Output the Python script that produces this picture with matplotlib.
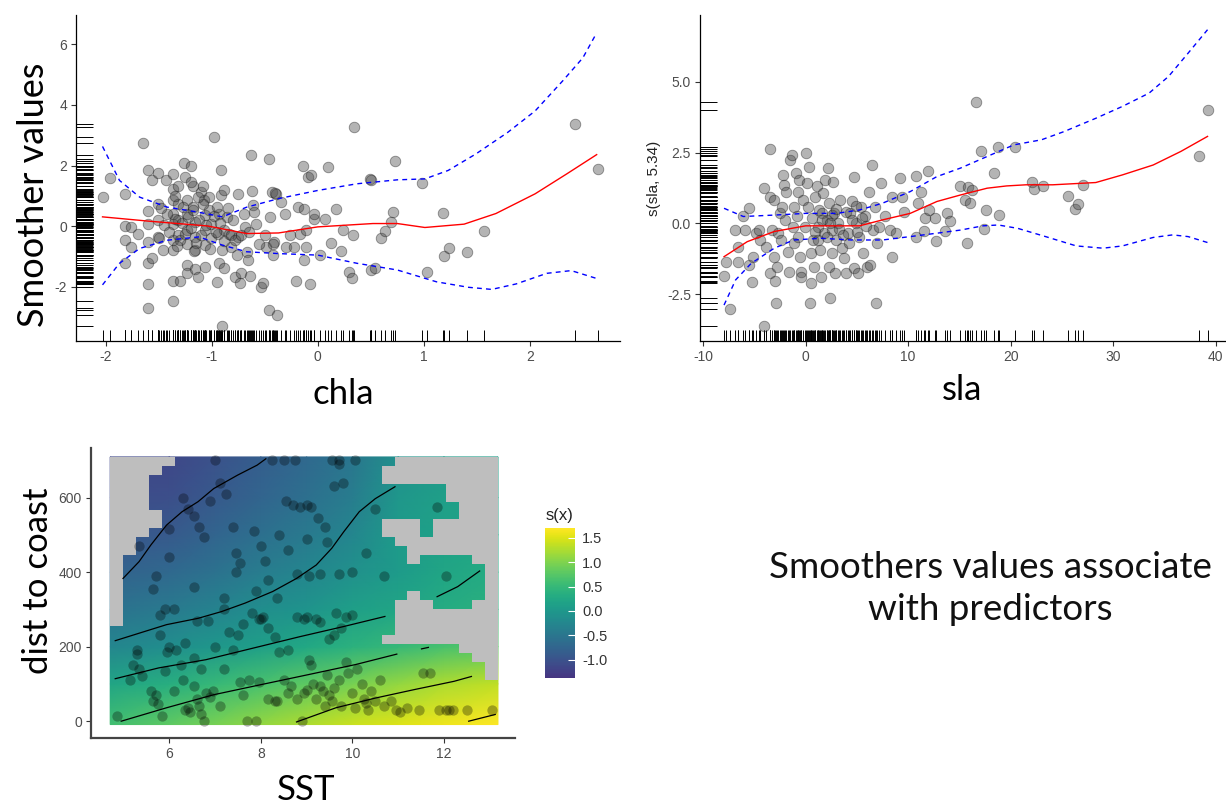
import numpy as np
import matplotlib
matplotlib.use("Agg")
import matplotlib.pyplot as plt
from matplotlib.colors import ListedColormap

plt.rcParams['axes.unicode_minus'] = False

# ---- chla smoother: partial residuals, fit and 2 SE band ----
chla_x = [-2.03, -1.96, -1.82, -1.82, -1.82, -1.82, -1.76, -1.70, -1.76, -1.65, -1.60, -1.60,
          -1.60, -1.60, -1.60, -1.60, -1.60, -1.56, -1.56, -1.51, -1.51, -1.51, -1.51, -1.46,
          -1.43, -1.37, -1.37, -1.37, -1.37, -1.37, -1.37, -1.37, -1.37, -1.37, -1.32, -1.32,
          -1.32, -1.32, -1.30, -1.26, -1.25, -1.23, -1.23, -1.23, -1.23, -1.23, -1.23, -1.20,
          -1.18, -1.18, -1.16, -1.16, -1.16, -1.16, -1.13, -1.10, -1.08, -1.07, -1.06, -1.06,
          -1.06, -1.06, -1.03, -1.03, -1.01, -1.01, -0.98, -0.95, -0.94, -0.93, -0.93, -0.91,
          -0.91, -0.90, -0.90, -0.88, -0.88, -0.88, -0.86, -0.84, -0.82, -0.78, -0.76, -0.75,
          -0.75, -0.73, -0.72, -0.69, -0.67, -0.66, -0.64, -0.63, -0.62, -0.61, -0.60, -0.58,
          -0.54, -0.52, -0.50, -0.49, -0.46, -0.46, -0.43, -0.42, -0.41, -0.39, -0.38, -0.35,
          -0.31, -0.30, -0.26, -0.22, -0.21, -0.19, -0.17, -0.14, -0.13, -0.13, -0.11, -0.11,
          -0.09, -0.07, -0.06, -0.04, -0.04, 0.02, 0.07, 0.10, 0.12, 0.17, 0.22, 0.24, 0.29,
          0.32, 0.33, 0.34, 0.49, 0.50, 0.50, 0.54, 0.60, 0.63, 0.69, 0.71, 0.73, 0.98, 1.03,
          1.18, 1.19, 1.24, 1.41, 1.57, 2.43, 2.64,
          -1.45, -1.40, -1.35, -1.30, -1.28, -1.25, -1.22, -1.20, -1.18, -1.15, -1.12, -1.10,
          -1.08, -1.05, -1.02, -0.98, -0.96, -0.92, -0.88, -0.85, -0.82, -0.80, -0.78, -0.72,
          -0.70, -0.65, -0.55, -0.45, -0.40, -0.42, -1.50, -1.42, -1.48, -1.33, -1.27, -1.17,
          -1.13, -1.35, -1.20, -0.95]
chla_y = [0.98, 1.58, 1.07, 0.00, -0.44, -1.22, -0.02, -0.24, -0.68, 2.73, 1.84, 0.49,
          0.07, -0.51, -1.22, -1.90, -2.70, 1.53, -1.06, 1.75, 0.72, 0.20, -0.35, -0.79,
          1.53, 1.73, 1.22, 0.87, 0.42, 0.07, -0.46, -0.79, -1.80, -2.46, 1.34, 0.74,
          0.20, -0.30, -1.80, 2.09, 1.62, 0.85, 0.42, -0.13, -0.57, -1.28, -1.53, 1.98,
          1.34, 0.63, 0.14, -0.35, -0.79, -1.42, -1.66, 1.13, 1.33, 0.85, 0.36, -0.13,
          -0.62, -1.33, 0.96, 0.52, 0.09, -0.40, 2.95, -1.83, -0.24, 0.42, -1.22, 1.04,
          1.84, -3.30, -0.79, 1.18, -0.13, -1.39, 0.31, -0.24, -0.68, -1.66, -0.95, 1.07,
          -0.35, -1.88, -1.55, -0.02, -0.84, -1.11, -1.64, 2.35, 1.16, 0.69, 0.47, 0.09,
          -1.99, -1.88, -0.30, -0.68, 2.22, -2.75, 1.13, -0.95, -0.51, 1.07, -2.92, 0.80,
          0.42, -0.68, -0.30, -0.68, -1.80, 0.63, -0.24, 1.97, 0.58, -1.11, -0.13, -0.68,
          1.62, -1.91, 1.70, 0.25, 0.42, -0.95, 0.25, 1.95, -0.55, 0.58, -0.82, -0.13, -1.50,
          -1.69, -0.30, 3.28, 1.56, 1.51, -1.44, -1.39, -0.40, -0.16, 0.14, 0.47, 2.16, 1.42,
          -1.52, 0.44, -0.97, -0.73, -0.84, -0.16, 3.36, 1.88,
          0.05, -0.20, 0.25, -0.45, 0.10, -0.25, 0.30, -0.05, 0.55, -0.55, 0.20, -0.30,
          0.75, 0.05, -0.75, 0.35, -0.20, 0.10, -0.50, 0.60, -0.30, 0.20, -0.45, -0.30,
          0.40, -0.20, -0.60, 0.30, 1.10, -0.60, -0.40, 0.40, 0.60, -0.65, 0.65, -0.80,
          0.95, 1.00, 1.45, 0.65]

chla_fit_x = [-2.03, -1.60, -1.04, -0.67, -0.37, 0.00, 0.52, 0.75, 1.01, 1.38, 1.68, 2.05, 2.35, 2.63]
chla_fit_y = [0.31, 0.17, 0.01, -0.24, -0.22, -0.02, 0.09, 0.09, -0.04, 0.07, 0.42, 1.07, 1.73, 2.36]
chla_up_x = [-2.03, -1.87, -1.68, -1.42, -1.12, -0.90, -0.67, -0.37, 0.00, 0.37, 0.75, 1.01,
             1.23, 1.49, 1.79, 2.05, 2.31, 2.50, 2.63]
chla_up_y = [2.63, 1.51, 0.96, 0.63, 0.46, 0.31, 0.63, 0.91, 1.18, 1.40, 1.53, 1.56,
             1.84, 2.38, 3.09, 3.80, 4.79, 5.55, 6.37]
chla_lo_x = [-2.03, -1.87, -1.68, -1.42, -1.12, -0.90, -0.67, -0.37, 0.00, 0.37, 0.75, 1.12,
             1.42, 1.64, 1.87, 2.16, 2.39, 2.63]
chla_lo_y = [-1.93, -1.22, -0.73, -0.46, -0.35, -0.62, -0.84, -0.90, -0.95, -1.22, -1.44, -1.83,
             -2.01, -2.08, -1.90, -1.55, -1.46, -1.72]

# ---- sla smoother ----
sla_x = [-7.96, -7.77, -7.40, -6.90, -6.64, -6.64, -6.15, -5.89, -5.51, -5.51, -5.25, -5.13,
         -4.87, -4.57, -4.49, -4.11, -4.11, -3.89, -3.51, -3.51, -3.43, -3.25, -3.13, -3.06,
         -2.98, -2.87, -2.75, -2.68, -2.49, -2.38, -2.30, -2.23, -2.11, -2.00, -1.92, -1.74,
         -1.62, -1.55, -1.36, -1.25, -1.17, -1.09, -0.98, -0.87, -0.79, -0.72, -0.60, -0.57,
         -0.49, -0.42, -0.23, -0.11, 0.04, 0.15, 0.26, 0.34, 0.42, 0.53, 0.53, 0.64, 0.72,
         0.79, 0.91, 1.09, 1.17, 1.28, 1.40, 1.47, 1.55, 1.66, 1.77, 1.85, 2.04, 2.15, 2.23,
         2.30, 2.42, 2.53, 2.60, 2.68, 2.79, 2.91, 2.98, 3.17, 3.36, 3.55, 3.74, 3.92, 4.11,
         4.30, 4.49, 4.68, 4.68, 4.87, 5.06, 5.25, 5.43, 5.62, 5.81, 6.00, 6.19, 6.30, 6.45,
         6.57, 6.75, 6.87, 6.94, 7.13, 7.32, 7.70, 8.26, 8.45, 8.45, 8.83, 9.21, 9.40, 9.58,
         10.72, 10.72, 10.91, 11.28, 11.58, 11.66, 11.96, 12.04, 12.60, 12.72, 13.55, 13.74,
         14.11, 15.06, 15.55, 15.70, 15.81, 16.00, 16.26, 16.64, 17.13, 17.43, 17.62, 18.38,
         18.75, 18.83, 20.42, 22.11, 22.23, 23.17, 25.62, 26.30, 26.57, 27.02, 38.38, 39.28,
         0.9, 1.6, 2.1, 2.6, 3.3, 3.9, 4.2, 4.5, 5.0, 5.5, 1.2, 2.4, 3.0, 3.6, 4.9, 5.9]
sla_y = [-1.86, -1.36, -3.03, -0.24, -0.83, -1.36, 0.24, -0.24, 0.53, -1.47, -2.06, -1.18,
         -0.35, -0.24, -0.59, 1.24, -3.63, -0.83, 2.62, 0.94, -1.77, -0.24, 0.83, -1.18,
         -2.04, -2.83, -1.53, -0.35, 0.35, -0.59, 0.59, 1.71, 1.36, 0.12, 1.12, -1.00,
         -1.71, 2.24, 2.42, -0.12, 0.59, -0.71, 1.77, 0.24, 1.12, -0.47, 1.53, -1.18,
         -1.71, -1.89, 0.83, -0.12, 2.48, 1.42, 0.59, 2.00, -2.83, -2.12, -1.06, 0.18, -0.59,
         -1.53, 0.94, 1.30, -0.12, 0.47, -0.94, -1.89, 0.35, 1.06, -0.35, 1.53, 0.12, 1.95, -1.53,
         0.71, -2.65, -0.24, -1.06, 1.47, 0.35, -1.77, -0.59, 0.00, 0.83, -0.88, -1.24, -1.77, -0.35,
         0.35, 0.77, 1.62, -1.59, 0.00, -1.77, -0.47, 0.59, -1.06, 0.24, -1.53, 1.12, -1.47, 2.06,
         -0.24, 0.59, -2.83, -0.71, -0.12, 1.44, 0.24, -0.24, -1.18, 0.94, -0.35, 1.59, 0.94, 0.41,
         1.67, -0.50, 0.71, 1.12, -0.29, 0.18, 1.83, 0.47, 0.18, -0.61, -0.29, 0.35,
         0.09, 1.32, 0.83, -0.68, 1.27, 0.73, 1.16, 4.28, 2.54, -0.21, 0.47, 1.77,
         2.71, 0.29, 2.68, 1.47, 1.20, 1.30, 0.97, 0.50, 0.68, 1.36, 2.36, 4.01,
         -0.30, 0.10, -0.50, 0.30, -0.20, 0.40, -0.70, 0.10, -0.30, 0.20, -0.60, 0.00, 0.50, -0.40, 0.60, -0.10]

sla_fit_x = [-7.96, -5.70, -3.06, 0.0, 3.0, 5.25, 7.5, 10.2, 12.8, 15.1, 17.7, 19.6, 21.5,
             24.1, 28.3, 30.9, 33.9, 36.6, 39.2]
sla_fit_y = [-1.18, -0.65, -0.29, -0.09, -0.09, -0.09, 0.12, 0.35, 0.77, 1.00, 1.24, 1.32, 1.36,
             1.36, 1.44, 1.71, 2.06, 2.54, 3.07]
sla_up_x = [-7.96, -6.08, -3.06, 0.0, 3.0, 5.25, 7.5, 10.2, 12.8, 15.1, 17.7, 20.3, 23.0,
            25.2, 28.3, 30.9, 33.5, 35.4, 37.3, 39.2]
sla_up_y = [0.53, 0.24, 0.29, 0.35, 0.35, 0.47, 0.71, 1.12, 1.65, 1.95, 2.36, 2.77, 2.95,
            3.24, 3.71, 4.13, 4.60, 5.19, 6.01, 6.84]
sla_lo_x = [-7.96, -6.83, -5.32, -3.06, -1.17, 1.47, 4.49, 7.5, 10.2, 12.8, 15.1, 17.3, 18.8,
            20.7, 23.4, 26.4, 29.0, 30.9, 33.9, 35.8, 37.3, 39.2]
sla_lo_y = [-2.89, -2.00, -1.42, -0.88, -0.59, -0.53, -0.59, -0.59, -0.47, -0.35, -0.24, -0.09, -0.06,
            -0.18, -0.47, -0.80, -0.88, -0.80, -0.50, -0.41, -0.47, -0.68]

# ---- SST x distance-to-coast surface ----
surf_sst = [4.71, 6, 7, 8, 9, 10, 11, 12, 13.18]
surf_dist = [-9, 100, 200, 300, 400, 500, 600, 709]
surf_val = [
    [0.60, 0.80, 0.95, 1.10, 1.25, 1.40, 1.50, 1.60, 1.70],
    [0.20, 0.35, 0.50, 0.65, 0.80, 0.95, 1.10, 1.25, 1.35],
    [-0.25, -0.15, 0.00, 0.10, 0.25, 0.40, 0.50, 0.65, 0.75],
    [-0.55, -0.45, -0.30, -0.15, -0.05, 0.10, 0.20, 0.30, 0.40],
    [-0.80, -0.70, -0.55, -0.40, -0.25, -0.10, 0.05, 0.20, 0.30],
    [-0.95, -0.90, -0.75, -0.60, -0.45, -0.25, 0.05, 0.15, 0.20],
    [-1.10, -1.05, -0.90, -0.75, -0.60, -0.40, 0.00, 0.10, 0.15],
    [-1.15, -1.15, -1.00, -0.85, -0.70, -0.50, -0.10, 0.05, 0.10],
]

# cells too far from data (top row = largest distance)
too_far = [
    "#####.................########",
    "####.................#########",
    "###..................#########",
    "###.......................####",
    "###.......................####",
    "###........................###",
    "####.......................###",
    "####.................###.#####",
    "###..................###.#####",
    "##....................########",
    "##.....................#######",
    "#......................#....##",
    "#............................#",
    "#............................#",
    "#............................#",
    "#......................#.....#",
    "#.....................###...##",
    "#.....................########",
    "#.....................########",
    "......................########",
    ".....................#########",
    "...........................###",
    "............................##",
    ".............................#",
    ".............................#",
    "..............................",
    "..............................",
    "..............................",
    "..............................",
    "..............................",
]

contour_lines = [
    ([4.99, 5.34, 5.60, 5.94, 6.28, 6.63, 6.97, 7.49, 7.92, 8.11],
     [383, 428, 473, 526, 562, 589, 624, 660, 687, 704]),
    ([4.82, 5.34, 5.94, 6.63, 7.14, 7.66, 8.26, 8.78, 9.21, 9.55, 9.81, 10.15, 10.50, 10.93],
     [216, 236, 259, 276, 294, 317, 348, 383, 419, 464, 508, 562, 597, 629]),
    ([4.82, 5.77, 6.80, 7.83, 8.86, 9.81, 10.71], [114, 143, 165, 196, 227, 254, 281]),
    ([4.95, 5.94, 6.97, 8.00, 9.04, 10.07, 10.97], [0, 36, 71, 98, 125, 152, 180]),
    ([8.78, 9.64, 10.50, 11.36, 12.22, 12.60], [-2, 36, 62, 85, 107, 120]),
    ([12.54, 13.12], [0, 18]),
    ([11.85, 12.30, 12.78], [334, 361, 403]),
    ([11.51, 11.66], [194, 198]),
]

obs_sst = [4.85, 5.15, 5.2, 5.35, 5.3, 5.4, 5.6, 5.65, 5.7, 5.75, 5.85, 5.9, 6.1, 6.15, 6.25, 6.3,
           6.35, 6.4, 6.45, 6.55, 6.55, 6.6, 6.65, 6.7, 6.75, 6.7, 6.8, 6.9, 6.95, 7.1, 7.2, 7.4,
           7.55, 7.6, 7.7, 7.75, 7.9, 7.95, 8.15, 8.3, 8.35, 8.4, 8.5, 8.6, 8.65, 8.8, 8.9, 8.95,
           9.0, 9.05, 9.1, 9.15, 9.2, 9.3, 9.35, 9.4, 9.45, 9.5, 9.55, 9.6, 9.7, 9.75, 9.85, 9.9,
           10.0, 10.05, 10.1, 10.2, 10.25, 10.3, 10.35, 10.4, 10.5, 10.6, 10.7, 10.85, 10.95,
           11.05, 11.2, 11.45, 11.55, 11.7, 11.9, 12.05, 12.1, 12.2, 12.5, 13.05,
           5.3, 5.8, 5.95, 6.0, 6.35, 6.6, 6.85, 7.0, 7.3, 7.5, 7.6, 7.8, 7.95, 8.0, 8.05, 8.15,
           8.3, 8.6, 8.8, 8.95, 9.0, 9.2, 9.3, 9.5, 9.6, 9.75, 9.85, 10.0, 7.2, 6.1, 5.8,
           5.35, 5.7, 5.65, 6.0, 6.3, 6.4, 6.55, 6.65, 6.75, 6.9, 7.1, 7.25, 7.4, 7.45, 7.55,
           7.45, 7.85, 8.0, 8.1, 8.15, 8.4, 8.35, 8.55, 8.7, 8.85, 9.0, 9.1, 9.25, 9.4, 9.6, 9.7,
           9.8, 8.25, 8.5, 8.75, 9.55, 9.7, 10.05, 7.0, 8.8, 9.05, 9.3, 9.7, 10.0, 10.3, 10.7,
           10.5, 11.85, 12.05, 6.0, 5.9, 6.55, 7.9, 7.2, 8.6, 9.45, 9.0, 9.65]
obs_dist = [15, 110, 150, 140, 180, 120, 80, 55, 70, 45, 15, 135, 80, 190, 150, 110,
            30, 35, 25, 170, 95, 60, 40, 20, 0, 140, 75, 65, 80, 40, 140, 190,
            105, 70, 0, 110, 0, 105, 60, 55, 55, 185, 110, 75, 95, 60, 0, 75,
            85, 165, 150, 100, 60, 95, 80, 40, 125, 70, 55, 90, 110, 40, 160, 130,
            75, 35, 140, 100, 60, 50, 30, 80, 55, 110, 40, 55, 30,
            25, 35, 30, 130, 130, 30, 30, 30, 30, 30, 30,
            190, 230, 185, 200, 210, 270, 270, 200, 240, 230, 260, 290, 275, 275, 280, 250,
            225, 190, 280, 275, 280, 275, 265, 220, 230, 250, 280, 285, 300, 300, 285,
            470, 390, 355, 515, 600, 570, 550, 520, 495, 590, 640, 610, 520, 450, 425,
            400, 510, 470, 430, 380, 500, 330, 590, 580, 575, 580, 575, 545, 520, 630, 700,
            640, 700, 700, 700, 700, 690, 700, 700, 395, 390, 395, 395, 400, 450, 390,
            570, 575, 390, 440, 300, 360, 350, 330, 460, 480, 490, 290]

cbar_ticks = [-1.0, -0.5, 0.0, 0.5, 1.0, 1.5]

LABEL_FONT = ['Lato', 'DejaVu Sans']
TICK_FONT = ['Liberation Sans', 'DejaVu Sans']
TICK_COLOR = '#4d4d4d'


def style_axes(ax, spine_color='black', spine_width=0.9):
    for side in ('top', 'right'):
        ax.spines[side].set_visible(False)
    for side in ('left', 'bottom'):
        ax.spines[side].set_color(spine_color)
        ax.spines[side].set_linewidth(spine_width)
    ax.tick_params(length=3.5, width=0.8, color='#333333', labelcolor=TICK_COLOR,
                   labelsize=10, pad=3)
    for lab in ax.get_xticklabels() + ax.get_yticklabels():
        lab.set_family(TICK_FONT)
    ax.set_facecolor('white')


def smoother_panel(ax, px, py, fx, fy, ux, uy, lx, ly):
    ax.scatter(px, py, s=58, facecolor='0.3', edgecolor='0.05', linewidths=0.6,
               alpha=0.42, zorder=3)
    ax.plot(fx, fy, color='red', lw=1.0, zorder=4)
    ax.plot(ux, uy, color='blue', lw=1.0, ls=(0, (3.5, 3)), zorder=4)
    ax.plot(lx, ly, color='blue', lw=1.0, ls=(0, (3.5, 3)), zorder=4)
    # rugs along both axes
    ax.vlines(px, 0, 0.035, transform=ax.get_xaxis_transform(), color='black', lw=0.7)
    ax.hlines(py, 0, 0.032, transform=ax.get_yaxis_transform(), color='black', lw=0.7)


fig = plt.figure(figsize=(12.26, 8.06), dpi=100)
fig.patch.set_facecolor('white')

# chla panel
ax1 = fig.add_axes([0.062, 0.5769, 0.4437, 0.4045])
smoother_panel(ax1, chla_x, chla_y, chla_fit_x, chla_fit_y, chla_up_x, chla_up_y,
               chla_lo_x, chla_lo_y)
ax1.set_xlim(-2.28, 2.85)
ax1.set_ylim(-3.78, 6.96)
ax1.set_xticks([-2, -1, 0, 1, 2])
ax1.set_yticks([-2, 0, 2, 4, 6])
style_axes(ax1)

# sla panel
ax2 = fig.add_axes([0.571, 0.5769, 0.429, 0.4045])
smoother_panel(ax2, sla_x, sla_y, sla_fit_x, sla_fit_y, sla_up_x, sla_up_y,
               sla_lo_x, sla_lo_y)
ax2.set_xlim(-10.3, 41.0)
ax2.set_ylim(-4.16, 7.36)
ax2.set_xticks([-10, 0, 10, 20, 30, 40])
ax2.set_yticks([-2.5, 0.0, 2.5, 5.0])
ax2.set_yticklabels(['-2.5', '0.0', '2.5', '5.0'])
style_axes(ax2)
ax2.set_ylabel('s(sla, 5.34)', fontsize=11, color='#222222', family=TICK_FONT, labelpad=4)

# SST x dist surface
ax3 = fig.add_axes([0.0742, 0.0844, 0.3458, 0.3598])
cmap = ListedColormap(plt.get_cmap('viridis')(np.linspace(0.15, 1.0, 256)))
mesh = ax3.pcolormesh(surf_sst, surf_dist, np.array(surf_val), shading='gouraud',
                      cmap=cmap, vmin=-1.38, vmax=1.70, zorder=1)
mask = np.array([[ch == '#' for ch in row] for row in too_far])
assert mask.shape == (30, 30)
xe = np.linspace(surf_sst[0], surf_sst[-1], 31)
ye = np.linspace(surf_dist[-1], surf_dist[0], 31)
grey = np.ma.masked_where(~mask, np.ones(mask.shape))
ax3.pcolormesh(xe, ye, grey, cmap=ListedColormap(['#bebebe']), shading='flat', zorder=2)
for cx, cy in contour_lines:
    ax3.plot(cx, cy, color='black', lw=0.9, zorder=3)
ax3.scatter(obs_sst, obs_dist, s=55, color='black', alpha=0.3, linewidths=0, zorder=4)
ax3.set_xlim(4.29, 13.55)
ax3.set_ylim(-45, 733)
ax3.set_xticks([6, 8, 10, 12])
ax3.set_yticks([0, 200, 400, 600])
style_axes(ax3, spine_color='#444444', spine_width=1.6)

cax = fig.add_axes([0.4445, 0.1588, 0.0245, 0.186])
cb = fig.colorbar(mesh, cax=cax, ticks=cbar_ticks)
cb.outline.set_visible(False)
cb.ax.tick_params(length=5, width=0.8, color='white', direction='in',
                  labelcolor='#333333', labelsize=10.5, pad=5)
for lab in cb.ax.get_yticklabels():
    lab.set_family(TICK_FONT)
fig.text(0.4565, 0.361, 's(x)', ha='center', va='center', fontsize=12,
         color='#222222', family=TICK_FONT)

# axis titles
fig.text(0.027, 0.758, 'Smoother values', rotation=90, ha='center', va='center',
         fontsize=26, family=LABEL_FONT)
fig.text(0.280, 0.511, 'chla', ha='center', va='center', fontsize=25, family=LABEL_FONT)
fig.text(0.785, 0.516, 'sla', ha='center', va='center', fontsize=25, family=LABEL_FONT)
fig.text(0.031, 0.280, 'dist to coast', rotation=90, ha='center', va='center',
         fontsize=25, family=LABEL_FONT)
fig.text(0.250, 0.020, 'SST', ha='center', va='center', fontsize=25, family=LABEL_FONT)

fig.text(0.808, 0.270, 'Smoothers values associate\nwith predictors', ha='center',
         va='center', fontsize=26.5, family=LABEL_FONT, color='#111111',
         linespacing=1.35)

fig.savefig('out.png', dpi=100, facecolor='white')
